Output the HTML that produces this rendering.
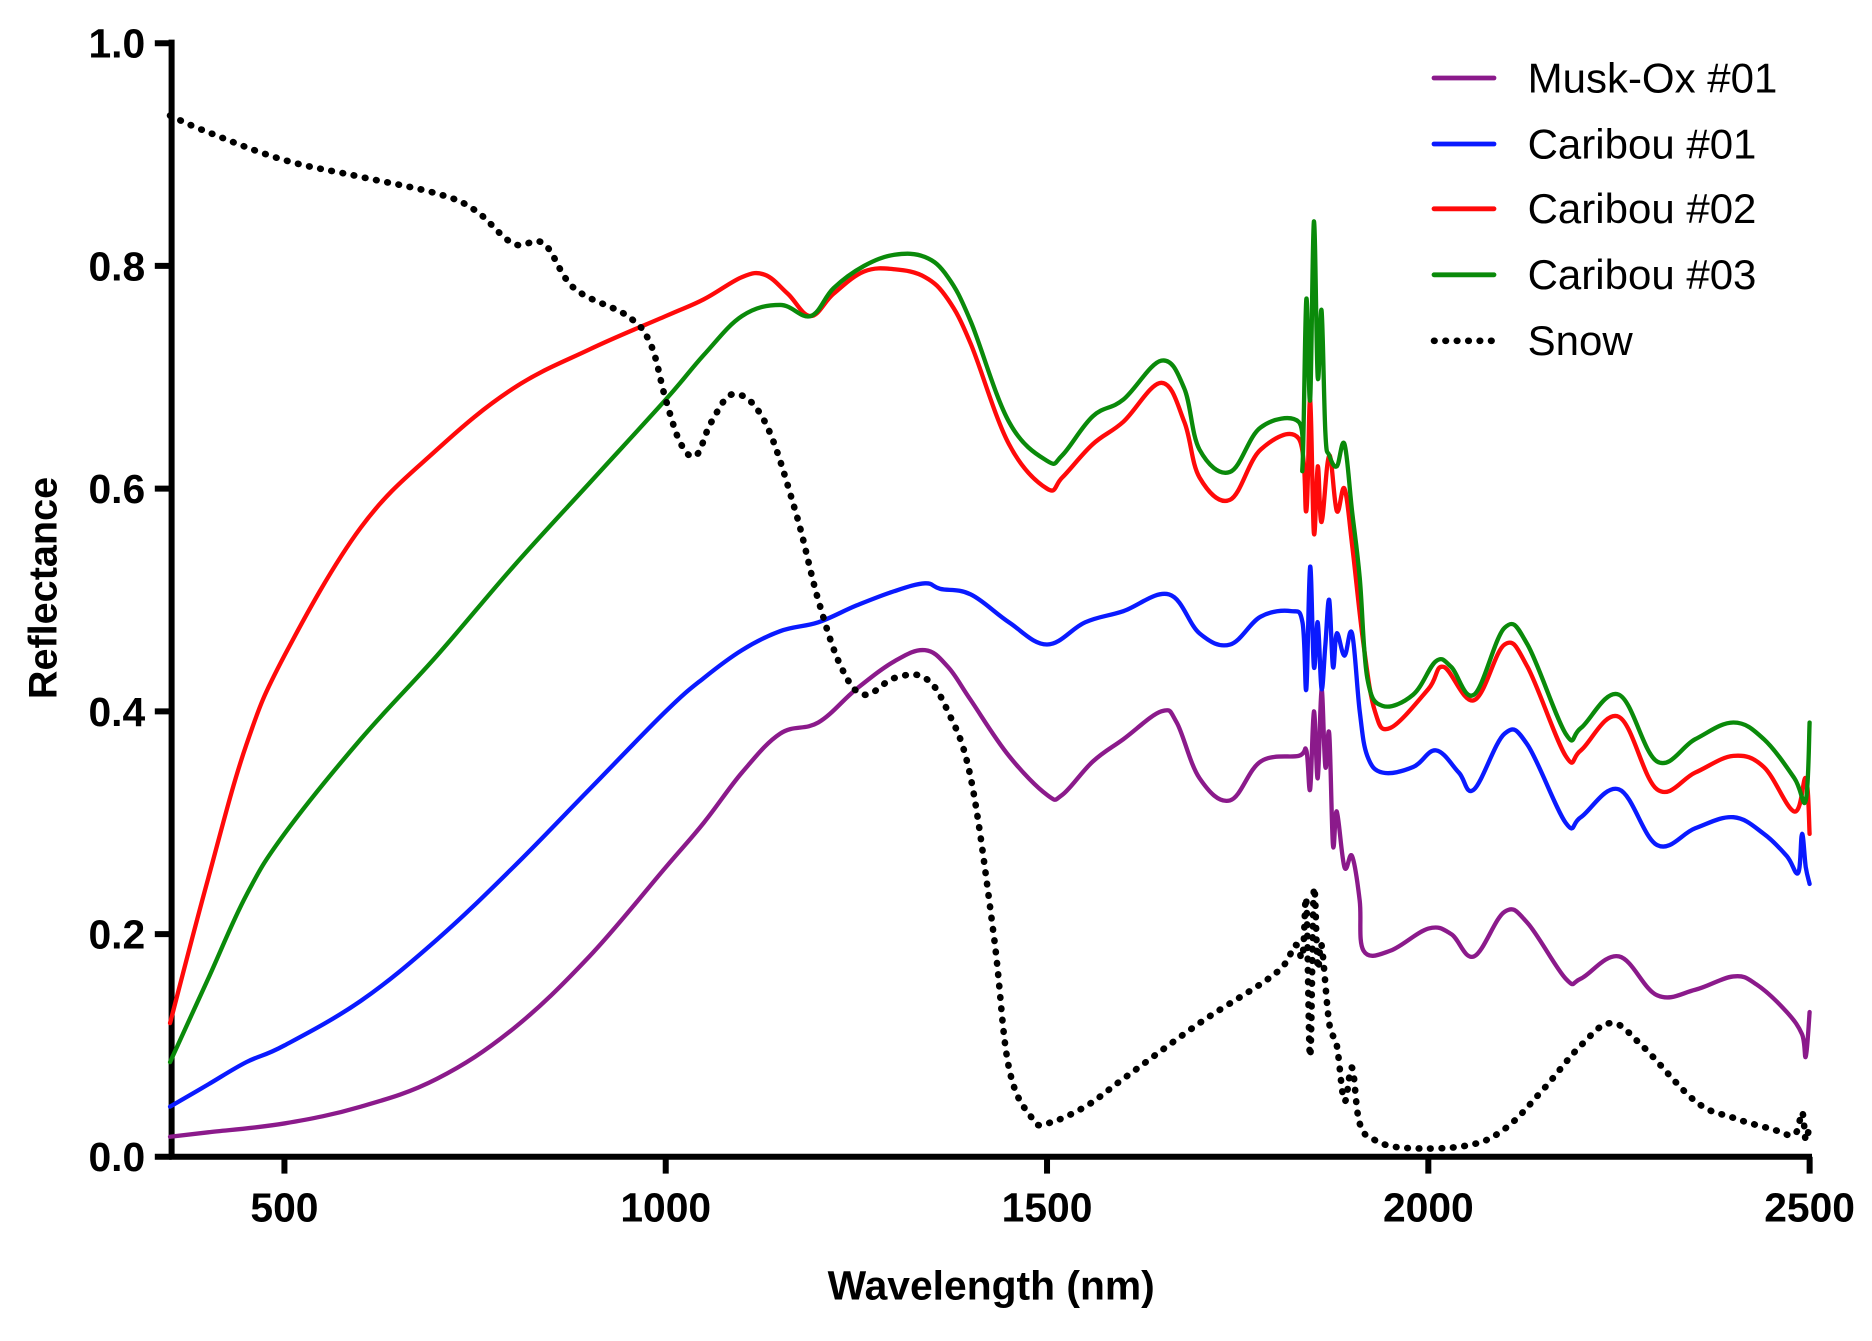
<!DOCTYPE html>
<html><head><meta charset="utf-8"><style>
html,body{margin:0;padding:0;background:#fff;}
svg text{font-family:"Liberation Sans",Arial,sans-serif;}
</style></head><body>
<svg id="chart" width="1872" height="1336" viewBox="0 0 1560 1113.33" xmlns="http://www.w3.org/2000/svg">
<g id="axes"></g>
<g id="series"></g>
<g id="legend"></g>
<text x="0" y="0" transform="translate(47,490) rotate(-90)" text-anchor="middle" font-size="33" font-weight="bold">Reflectance</text>
<text x="826" y="1083" text-anchor="middle" font-size="34" font-weight="bold">Wavelength (nm)</text>
</svg>
<script>
const xTicks=[500,1000,1500,2000,2500];
const yTicks=[0,0.2,0.4,0.6,0.8,1.0];
const yTickLabels=["0.0","0.2","0.4","0.6","0.8","1.0"];
const seriesNames=["Musk-Ox #01","Caribou #01","Caribou #02","Caribou #03","Snow"];
const muskWl=[350,400,500,600,700,800,900,1000,1050,1100,1150,1200,1250,1300,1340,1370,1400,1450,1500,1520,1560,1600,1650,1670,1700,1740,1780,1830,1840,1845,1850,1855,1860,1865,1870,1875,1880,1890,1900,1910,1915,1950,2000,2030,2060,2100,2130,2180,2200,2250,2300,2350,2400,2430,2470,2490,2495,2500];
const muskVal=[0.018,0.022,0.03,0.045,0.07,0.115,0.18,0.26,0.30,0.345,0.38,0.39,0.42,0.445,0.455,0.44,0.41,0.36,0.325,0.325,0.355,0.375,0.40,0.39,0.34,0.32,0.355,0.36,0.365,0.33,0.40,0.34,0.42,0.35,0.38,0.28,0.31,0.26,0.27,0.23,0.185,0.185,0.205,0.2,0.18,0.22,0.21,0.16,0.16,0.18,0.145,0.15,0.162,0.155,0.13,0.11,0.09,0.13];
const car1Wl=[350,400,450,500,600,700,800,900,1000,1050,1100,1150,1200,1250,1300,1340,1360,1400,1450,1500,1550,1600,1660,1700,1740,1780,1820,1835,1840,1845,1850,1855,1860,1865,1870,1875,1880,1890,1900,1910,1920,1940,1980,2010,2040,2060,2100,2130,2180,2200,2250,2300,2350,2400,2440,2470,2485,2490,2495,2500];
const car1Val=[0.045,0.065,0.085,0.1,0.14,0.195,0.26,0.33,0.4,0.43,0.455,0.472,0.48,0.495,0.508,0.515,0.51,0.505,0.48,0.46,0.48,0.49,0.505,0.47,0.46,0.485,0.49,0.48,0.42,0.53,0.44,0.48,0.42,0.46,0.5,0.44,0.47,0.45,0.47,0.4,0.36,0.345,0.35,0.365,0.345,0.33,0.38,0.37,0.3,0.305,0.33,0.28,0.295,0.305,0.29,0.27,0.255,0.29,0.26,0.245];
const car2Wl=[350,400,450,500,600,700,800,900,1000,1050,1100,1130,1160,1190,1220,1260,1300,1340,1370,1400,1450,1500,1520,1560,1600,1650,1680,1700,1740,1780,1830,1840,1845,1850,1855,1860,1870,1880,1890,1900,1915,1930,1950,2000,2020,2060,2100,2130,2180,2200,2250,2300,2350,2400,2440,2480,2495,2500];
const car2Val=[0.12,0.25,0.37,0.45,0.565,0.635,0.69,0.725,0.755,0.77,0.79,0.792,0.775,0.755,0.775,0.795,0.797,0.79,0.77,0.73,0.64,0.6,0.61,0.64,0.66,0.695,0.66,0.61,0.59,0.635,0.645,0.58,0.68,0.56,0.62,0.57,0.63,0.58,0.6,0.55,0.46,0.4,0.385,0.42,0.44,0.41,0.46,0.44,0.36,0.365,0.395,0.33,0.345,0.36,0.35,0.31,0.34,0.29];
const car3Wl=[350,400,450,500,600,700,800,900,1000,1050,1100,1150,1190,1220,1260,1300,1340,1370,1400,1450,1500,1520,1560,1600,1650,1680,1700,1740,1780,1830,1835,1840,1845,1850,1855,1860,1865,1870,1880,1890,1900,1910,1920,1940,1980,2010,2030,2060,2100,2130,2180,2200,2250,2300,2350,2400,2440,2480,2495,2500];
const car3Val=[0.085,0.16,0.235,0.29,0.375,0.45,0.53,0.605,0.68,0.72,0.755,0.765,0.755,0.78,0.8,0.81,0.808,0.79,0.75,0.66,0.625,0.63,0.665,0.68,0.715,0.69,0.635,0.615,0.655,0.66,0.62,0.77,0.68,0.84,0.7,0.76,0.65,0.63,0.62,0.64,0.58,0.52,0.43,0.405,0.415,0.445,0.44,0.415,0.475,0.46,0.38,0.385,0.415,0.355,0.375,0.39,0.375,0.34,0.32,0.39];
const snowWl=[350,400,500,600,700,750,800,840,880,950,980,1000,1020,1040,1060,1090,1130,1170,1200,1230,1260,1300,1340,1370,1400,1430,1450,1480,1500,1550,1600,1700,1800,1825,1835,1840,1845,1850,1855,1860,1870,1880,1890,1900,1910,1930,1970,2050,2100,2150,2200,2240,2280,2350,2400,2450,2480,2490,2495,2500];
const snowVal=[0.935,0.92,0.895,0.88,0.865,0.85,0.82,0.82,0.78,0.755,0.73,0.68,0.64,0.63,0.66,0.685,0.66,0.58,0.5,0.44,0.415,0.43,0.43,0.4,0.34,0.2,0.08,0.035,0.03,0.045,0.07,0.12,0.165,0.19,0.18,0.23,0.09,0.24,0.17,0.19,0.12,0.1,0.05,0.08,0.03,0.015,0.008,0.01,0.025,0.06,0.1,0.12,0.1,0.05,0.035,0.025,0.02,0.04,0.015,0.03];

const NS="http://www.w3.org/2000/svg";
const X0=141.7,XMIN=350,XPX=0.6355,Y0=964,YPX=928;
function xs(v){return X0+(v-XMIN)*XPX;}
function ys(v){return Y0-v*YPX;}
function mk(tag,attrs,parent){const e=document.createElementNS(NS,tag);for(const k in attrs)e.setAttribute(k,attrs[k]);parent.appendChild(e);return e;}
function smoothPath(P){
 let d='M'+P[0][0].toFixed(1)+','+P[0][1].toFixed(1);
 const t=0.18;
 for(let i=0;i<P.length-1;i++){
  const p0=P[i-1]||P[i],p1=P[i],p2=P[i+1],p3=P[i+2]||p2;
  const c1=[p1[0]+(p2[0]-p0[0])*t,p1[1]+(p2[1]-p0[1])*t];
  const c2=[p2[0]-(p3[0]-p1[0])*t,p2[1]-(p3[1]-p1[1])*t];
  d+=' C'+c1[0].toFixed(1)+','+c1[1].toFixed(1)+' '+c2[0].toFixed(1)+','+c2[1].toFixed(1)+' '+p2[0].toFixed(1)+','+p2[1].toFixed(1);
 }
 return d;
}
const axes=document.getElementById('axes');
let e=mk('line',{x1:143,y1:33,x2:143,y2:966,stroke:'#000','stroke-width':5},axes);


e=mk('line',{x1:141,y1:964,x2:1510,y2:964,stroke:'#000','stroke-width':5},axes);


xTicks.forEach(t=>{
 const x=xs(t);
 const l=mk('line',{x1:x,y1:964,x2:x,y2:978,stroke:'#000','stroke-width':5},axes);
 
 
 const tx=mk('text',{x:x,y:1018,'text-anchor':'middle','font-size':34,'font-weight':'bold'},axes);
 tx.textContent=t;
 
 
});
yTicks.forEach((t,i)=>{
 const y=ys(t);
 const l=mk('line',{x1:129,y1:y,x2:143,y2:y,stroke:'#000','stroke-width':5},axes);
 
 
 const tx=mk('text',{x:121,y:y+12,'text-anchor':'end','font-size':34,'font-weight':'bold'},axes);
 tx.textContent=yTickLabels[i];
 
 
});
const ser=document.getElementById('series');
const defs=[[muskWl,muskVal,'#8b1a8b',null,'musk-ox-01-line'],[car1Wl,car1Val,'#0a1aff',null,'caribou-01-line'],[car2Wl,car2Val,'#ff0a0a',null,'caribou-02-line'],[car3Wl,car3Val,'#0a8a0a',null,'caribou-03-line'],[snowWl,snowVal,'#000','0.5 9','snow-line']];
defs.forEach(d=>{
 const P=d[0].map((w,i)=>[xs(w),ys(d[1][i])]);
 const a={d:smoothPath(P),fill:'none',stroke:d[2],'stroke-width':d[3]?5.5:3.6,'stroke-linejoin':'round','stroke-linecap':'round'};
 if(d[3])a['stroke-dasharray']=d[3];
 const p=mk('path',a,ser);
 
 
});
const leg=document.getElementById('legend');
const legY=[65,120,174,229,284];
defs.forEach((d,i)=>{
 const a={x1:1195,y1:legY[i],x2:1245,y2:legY[i],stroke:d[2],'stroke-width':d[3]?5.5:4,'stroke-linecap':'round'};
 if(d[3])a['stroke-dasharray']=d[3];
 const l=mk('line',a,leg);
 
 
 const t=mk('text',{x:1273,y:legY[i]+12,'font-size':35},leg);
 t.textContent=seriesNames[i];
 
 
});
</script>
</body></html>
